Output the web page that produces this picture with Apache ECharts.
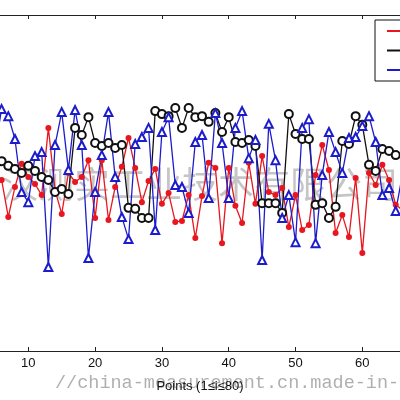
<!DOCTYPE html>
<html>
<head>
<meta charset="utf-8">
<script src="https://cdn.jsdelivr.net/npm/echarts@6/dist/echarts.min.js"></script>
<style>
  html, body { margin: 0; padding: 0; background: #fff; }
  #main { width: 400px; height: 400px; }
</style>
</head>
<body>
<div id="main"></div>
<script>
// points 1..80, values (arbitrary units, 0..100 = plot height)
// the picture is a crop: only about points 5.8 .. 65.6 are in view
var xView = [5.76, 65.64];
var xTicks = [10, 20, 30, 40, 50, 60];
var seriesNames = ['Series 1', 'Series 2', 'Series 3'];

var redVals = [
    48.0, 52.0, 45.0, 55.0, 50.0, 50.9, 39.9, 48.8, 55.7, 51.8,
    49.7, 46.4, 66.4, 47.9, 40.8, 53.0, 50.3, 51.8, 56.8, 39.6,
    56.8, 39.0, 48.8, 54.8, 63.4, 54.5, 44.3, 50.6, 54.2, 43.8,
    47.0, 38.4, 38.7, 46.4, 33.6, 46.1, 56.0, 54.5, 32.1, 54.5,
    43.2, 38.1, 56.0, 43.8, 58.0, 47.3, 46.4, 48.5, 36.9, 46.4,
    36.0, 37.5, 52.4, 61.3, 53.9, 35.1, 40.5, 33.9, 51.5, 29.2,
    53.0, 49.4, 55.4, 50.9, 43.5, 42.0, 50.0, 45.0, 55.0, 40.0,
    52.0, 47.0, 44.0, 56.0, 49.0, 41.0, 53.0, 46.0, 50.0, 45.0
];

var blackVals = [
    58.0, 60.0, 57.0, 59.0, 57.0, 56.5, 55.1, 54.2, 53.0, 55.1,
    53.6, 51.8, 50.9, 47.3, 48.2, 46.7, 66.4, 64.3, 69.6, 61.9,
    61.0, 61.9, 60.4, 61.3, 42.6, 42.3, 39.6, 39.6, 71.4, 70.5,
    69.9, 72.3, 66.4, 72.3, 69.6, 69.9, 68.2, 70.8, 65.2, 69.6,
    62.2, 61.9, 62.8, 61.0, 44.0, 44.0, 44.0, 41.1, 70.5, 64.6,
    63.1, 63.1, 43.5, 44.0, 39.6, 42.9, 62.5, 61.6, 69.9, 67.3,
    55.4, 53.6, 60.1, 59.5, 58.3, 58.0, 57.0, 62.0, 60.0, 55.0,
    54.0, 58.0, 61.0, 57.0, 52.0, 55.0, 59.0, 56.0, 60.0, 58.0
];

var blueVals = [
    55.0, 65.0, 48.0, 70.0, 60.0, 72.0, 69.9, 63.1, 47.3, 44.3,
    58.0, 59.2, 25.0, 61.3, 71.1, 53.9, 71.7, 61.3, 27.7, 47.3,
    58.3, 71.1, 51.8, 39.9, 33.3, 61.6, 63.7, 66.4, 36.0, 65.2,
    69.6, 49.4, 48.8, 41.1, 62.2, 64.3, 45.5, 70.8, 61.9, 45.5,
    66.4, 71.4, 57.4, 62.8, 27.1, 67.6, 56.8, 39.6, 46.4, 32.4,
    66.4, 69.0, 32.1, 52.4, 65.2, 59.2, 53.0, 63.4, 63.7, 67.0,
    69.9, 62.2, 46.4, 48.5, 41.7, 52.4, 60.0, 45.0, 66.0, 50.0,
    38.0, 62.0, 55.0, 47.0, 64.0, 42.0, 58.0, 51.0, 60.0, 49.0
];

function pairs(vals) {
    return vals.map(function (v, k) { return [k + 1, v]; });
}

var myChart = echarts.init(document.getElementById('main'), null, { renderer: 'canvas' });

var option = {
    backgroundColor: '#fff',
    animation: false,
    textStyle: { fontFamily: 'Liberation Sans' },
    grid: {
        left: 0,
        right: 0,
        top: 15,
        bottom: 49,
        outerBoundsMode: 'none',
        containLabel: false
    },
    legend: {
        orient: 'vertical',
        left: 375,
        top: 20,
        padding: [5, 10, 5, 12],
        itemWidth: 36,
        itemHeight: 2,
        itemGap: 7.5,
        icon: 'rect',
        borderColor: '#111',
        borderWidth: 1,
        backgroundColor: '#fff',
        data: seriesNames,
        textStyle: { color: '#111', fontSize: 12 }
    },
    xAxis: [{
        type: 'value',
        position: 'bottom',
        min: xView[0],
        max: xView[1],
        name: 'Points (1≤i≤80)',
        nameLocation: 'middle',
        nameGap: 29,
        nameTextStyle: { color: '#111', fontSize: 13, fontFamily: 'Liberation Sans' },
        axisLine: { lineStyle: { color: '#222', width: 1 } },
        axisTick: { inside: true, length: 4, customValues: xTicks, lineStyle: { color: '#222' } },
        axisLabel: { color: '#111', fontSize: 13, margin: 6, customValues: xTicks },
        splitLine: { show: false }
    }, {
        type: 'value',
        position: 'top',
        min: xView[0],
        max: xView[1],
        axisLine: { lineStyle: { color: '#222', width: 1 } },
        axisTick: { inside: true, length: 4, customValues: xTicks, lineStyle: { color: '#222' } },
        axisLabel: { show: false },
        splitLine: { show: false }
    }],
    yAxis: {
        type: 'value',
        min: 0,
        max: 100,
        show: false
    },
    graphic: [{
        type: 'text',
        left: 2,
        top: 166,
        z: -10,
        silent: true,
        style: {
            text: '汉测实工业技术有限公司',
            font: '36px "Noto Sans CJK SC"',
            fill: 'rgba(110,110,110,0.4)'
        }
    }, {
        type: 'text',
        left: 55,
        top: 374,
        z: -10,
        silent: true,
        style: {
            text: '//china-measurement.cn.made-in-china.com',
            font: '18.5px "Liberation Mono"',
            fill: 'rgba(110,110,110,0.55)'
        }
    }],
    series: [{
        name: seriesNames[0],
        type: 'line',
        data: pairs(redVals),
        symbol: 'circle',
        symbolSize: 6,
        color: '#e8161e',
        lineStyle: { width: 1.3, color: '#e8161e' },
        itemStyle: { color: '#e8161e' }
    }, {
        name: seriesNames[1],
        type: 'line',
        data: pairs(blackVals),
        symbol: 'emptyCircle',
        symbolSize: 8,
        color: '#111',
        lineStyle: { width: 1.3, color: '#111' },
        itemStyle: { color: '#111', borderWidth: 1.3 }
    }, {
        name: seriesNames[2],
        type: 'line',
        data: pairs(blueVals),
        symbol: 'emptyTriangle',
        symbolSize: 8,
        color: '#1c1ccc',
        lineStyle: { width: 1.3, color: '#1c1ccc' },
        itemStyle: { color: '#1c1ccc', borderWidth: 1.3 }
    }]
};

myChart.setOption(option);
window.addEventListener('resize', function () {
    myChart.resize();
});
</script>
</body>
</html>
